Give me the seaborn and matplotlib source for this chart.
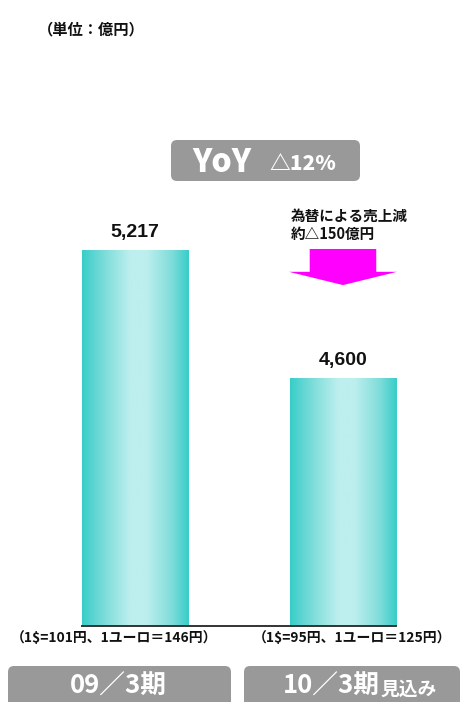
import numpy as np
import pandas as pd
import seaborn as sns
import matplotlib
matplotlib.use("Agg")
import matplotlib.pyplot as plt
from matplotlib.colors import LinearSegmentedColormap
from matplotlib.patches import FancyBboxPatch, Polygon
from matplotlib.transforms import IdentityTransform

# ---- data ----
categories = ["09/3期", "10/3期"]
cat_labels = ["09／3期", "10／3期"]
cat_suffix = ["", "見込み"]
values = [5217, 4600]
value_labels = ["5,217", "4,600"]
fx_notes = ["（1$=101円、1ユーロ＝146円）", "（1$=95円、1ユーロ＝125円）"]
unit_label = "（単位：億円）"
yoy_label = "YoY"
yoy_value = "△12%"
fx_impact = ["為替による売上減", "約△150億円"]

W, H = 462, 702
DPI = 100
sns.set_theme(style="white")
JP = ["Noto Sans CJK JP", "DejaVu Sans"]
plt.rcParams["font.family"] = JP

fig = plt.figure(figsize=(W / DPI, H / DPI), dpi=DPI)
fig.patch.set_facecolor("white")

# axes: x from 82 to 396 px, y from 626 (bottom) to 100 (top)
ax = fig.add_axes([82 / W, (H - 626) / H, (396 - 82) / W, (626 - 100) / H])
df = pd.DataFrame({"period": categories, "sales": values})
sns.barplot(data=df, x="period", y="sales", width=0.51, color="#3ECFCB",
            ax=ax, saturation=1, edgecolor="none", linewidth=0)

xlim = (-0.255, 1.255)
ylim = (3405, 5940)

cmap = LinearSegmentedColormap.from_list(
    "bar", [(0.0, "#38CDC9"), (0.2, "#7ADCD9"), (0.45, "#BDEFEE"),
            (0.6, "#BDEFEE"), (0.84, "#80DDDA"), (1.0, "#38CDC9")])
grad = np.linspace(0, 1, 256).reshape(1, -1)
for p in list(ax.patches):
    x0 = p.get_x()
    w, h = p.get_width(), p.get_height()
    im = ax.imshow(grad, extent=[x0, x0 + w, ylim[0], p.get_y() + h],
                   cmap=cmap, aspect="auto", zorder=p.get_zorder() + 0.1,
                   interpolation="bicubic")
    im.set_clip_path(p)

ax.set_xlim(*xlim)
ax.set_ylim(*ylim)
ax.set_xticks([])
ax.set_yticks([])
ax.set_xlabel("")
ax.set_ylabel("")
for s in ["top", "left", "right"]:
    ax.spines[s].set_visible(False)
ax.spines["bottom"].set_color("#333333")
ax.spines["bottom"].set_linewidth(1.4)
ax.spines["bottom"].set_zorder(5)
ax.set_facecolor("none")

# value labels
for i, (v, lab) in enumerate(zip(values, value_labels)):
    ax.text(i, v + 45, lab, ha="center", va="bottom", fontsize=14,
            fontweight="bold",
            family=["Liberation Sans", "DejaVu Sans"], color="#111111",
            clip_on=False)

# magenta arrow (FX impact) above second bar
shaft_half = 0.16
head_half = 0.26
top = values[1] + 622
sh_bot = top - 110
tip = top - 174
arrow = Polygon([(1 - shaft_half, top), (1 + shaft_half, top),
                 (1 + shaft_half, sh_bot), (1 + head_half, sh_bot),
                 (1, tip), (1 - head_half, sh_bot), (1 - shaft_half, sh_bot)],
                closed=True, facecolor="#FF00FF", edgecolor="none",
                clip_on=False, zorder=3)
ax.add_patch(arrow)


def fx(x):
    return x / W


def fy(y):
    return 1 - y / H


# FX impact text
fig.text(fx(291), fy(216), fx_impact[0], ha="left", va="center",
         fontsize=10.5, fontweight="bold", color="#111111")
fig.text(fx(291), fy(234), fx_impact[1], ha="left", va="center",
         fontsize=10.5, fontweight="bold", color="#111111")

# unit label
fig.text(fx(38), fy(29), unit_label, ha="left", va="center",
         fontsize=11, fontweight="bold", color="#111111")


def gray_box(x0, y0, x1, y1, r=6):
    b = FancyBboxPatch((x0, H - y1), x1 - x0, y1 - y0,
                       boxstyle=f"round,pad=0,rounding_size={r}",
                       transform=IdentityTransform(), facecolor="#999999",
                       edgecolor="none", figure=fig)
    fig.patches.append(b)


# YoY box
gray_box(171, 140, 360, 181)
fig.text(fx(222), fy(162), yoy_label, ha="center", va="center",
         fontsize=23, fontweight="heavy", color="white")
fig.text(fx(303), fy(164), yoy_value, ha="center", va="center",
         fontsize=15, fontweight="heavy", color="white")

# FX notes
note_x = [114, 352]
for x, t in zip(note_x, fx_notes):
    fig.text(fx(x), fy(638), t, ha="center", va="center", fontsize=10,
             fontweight="bold", color="#111111")

# bottom category boxes
gray_box(8, 666, 231, 712)
gray_box(244, 666, 460, 712)
fig.text(fx(118), fy(686), cat_labels[0], ha="center", va="center",
         fontsize=18.5, fontweight="bold", color="white")
fig.text(fx(331), fy(686), cat_labels[1], ha="center", va="center",
         fontsize=18.5, fontweight="bold", color="white")
fig.text(fx(380), fy(689), cat_suffix[1], ha="left", va="center",
         fontsize=13.5, fontweight="bold", color="white")

fig.savefig("out.png", dpi=DPI, facecolor="white")
